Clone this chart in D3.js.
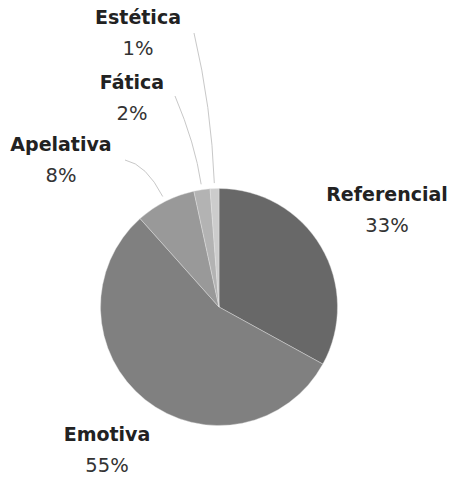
<!DOCTYPE html>
<html>
<head>
<meta charset="utf-8">
<script src="https://cdn.jsdelivr.net/npm/d3@7"></script>
<style>
  body { margin: 0; background: #fff; }
  svg { display: block; }
</style>
</head>
<body>
<script>
// slices, clockwise from 12 o'clock
var categories = ['Referencial', 'Emotiva', 'Apelativa', 'Fática', 'Estética'];
var values = [33, 55.4, 8.2, 2.2, 1.2];
var colors = ['#686868', '#808080', '#999999', '#b3b3b3', '#cccccc'];

var width = 450;
var height = 477;
var cx = 219, cy = 307, radius = 118.5;

// where each label sits (center x, baseline of name) - layout only
var labelPos = {
        'Referencial': {x: 387, y: 201, leader: false},
        'Emotiva': {x: 107, y: 441, leader: false},
        'Apelativa': {x: 61, y: 151, leader: true, lx: 125, ly: 160, ctrl: 160},
        'Fática': {x: 132, y: 89, leader: true, lx: 175, ly: 96, ctrl: 165},
        'Estética': {x: 138, y: 24, leader: true, lx: 194, ly: 33, ctrl: 200}
};

var total = d3.sum(values);
var data = categories.map(function(c, i){ return {name: c, value: values[i], color: colors[i]}; });

var svg = d3.select("body")
        .append("svg")
        .attr("width", width)
        .attr("height", height);

var pie = d3.pie()
        .sort(null)
        .value(function(d){ return d.value; });

var arc = d3.arc()
        .innerRadius(0)
        .outerRadius(radius);

var arcs = pie(data);

var chartGroup = svg.append("g").attr("transform", "translate(" + cx + "," + cy + ")");

chartGroup.selectAll("path.slice")
        .data(arcs)
        .enter()
        .append("path")
        .attr("class", "slice")
        .attr("d", arc)
        .attr("fill", function(d){ return d.data.color; })
        .attr("stroke", "#e6e6e6")
        .attr("stroke-width", 0.4);

// point on a circle of radius r at the slice's middle angle
function polar(d, r) {
        var a = (d.startAngle + d.endAngle) / 2;
        return [Math.sin(a) * r, -Math.cos(a) * r];
}

// leader lines for the thin slices
chartGroup.selectAll("path.leader")
        .data(arcs.filter(function(d){ return labelPos[d.data.name].leader; }))
        .enter()
        .append("path")
        .attr("class", "leader")
        .attr("fill", "none")
        .attr("stroke", "#c8c8c8")
        .attr("stroke-width", 1)
        .attr("d", function(d){
                var p = labelPos[d.data.name];
                var s = polar(d, radius + 5.5);
                var c = polar(d, p.ctrl);
                var e = [p.lx - cx, p.ly - cy];
                var path = d3.path();
                path.moveTo(s[0], s[1]);
                path.quadraticCurveTo(c[0], c[1], e[0], e[1]);
                return path.toString();
        });

var labels = svg.selectAll("g.label")
        .data(arcs)
        .enter()
        .append("g")
        .attr("class", "label")
        .attr("transform", function(d){
                var p = labelPos[d.data.name];
                return "translate(" + p.x + "," + p.y + ")";
        });

labels.append("text")
        .attr("text-anchor", "middle")
        .attr("font-family", "DejaVu Sans, sans-serif")
        .attr("font-weight", "bold")
        .attr("font-size", 19)
        .attr("fill", "#222")
        .text(function(d){ return d.data.name; });

labels.append("text")
        .attr("text-anchor", "middle")
        .attr("y", 31)
        .attr("font-family", "DejaVu Sans, sans-serif")
        .attr("font-size", 19.5)
        .attr("fill", "#333")
        .text(function(d){ return Math.round(d.data.value / total * 100) + "%"; });
</script>
</body>
</html>
